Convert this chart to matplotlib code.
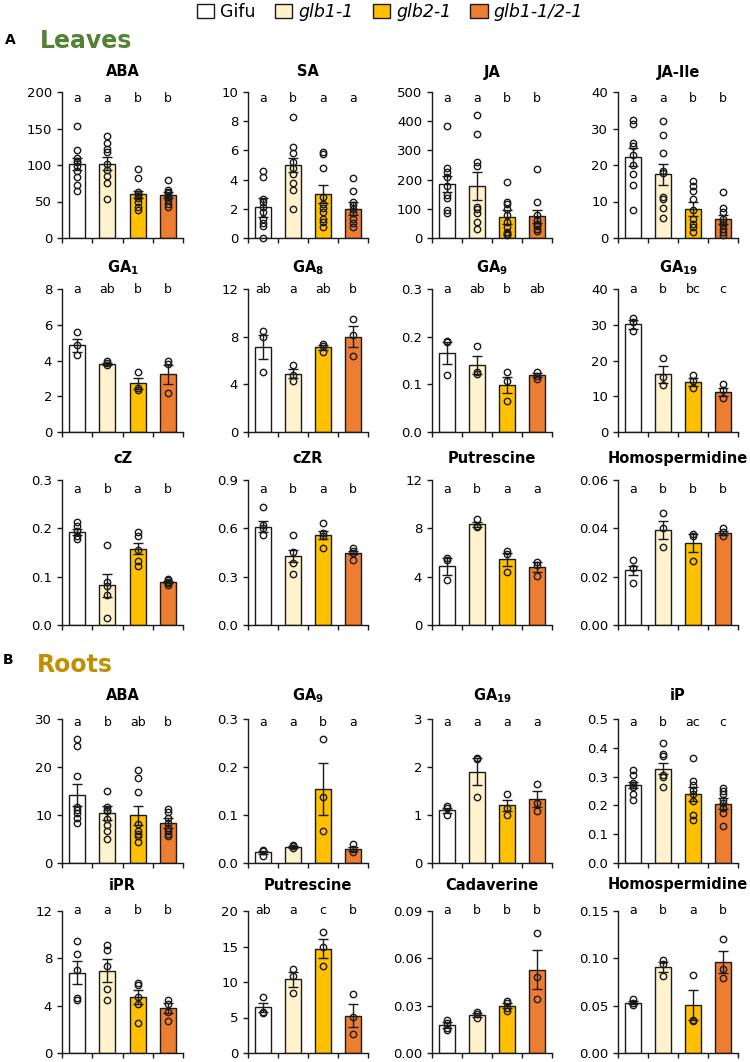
import matplotlib
matplotlib.use('Agg')
import matplotlib.pyplot as plt
from matplotlib.patches import Patch
from matplotlib.ticker import FormatStrFormatter
import numpy as np

plt.rcParams['font.family'] = ['DejaVu Sans']

genotypes = ['Gifu', 'glb1-1', 'glb2-1', 'glb1-1/2-1']
bar_colors = ['#FFFFFF', '#FFF2CC', '#FFC000', '#ED7D31']

# ---------------- Leaves ----------------
L_ABA_mean = [101, 102, 60, 59]
L_ABA_sem = [8, 9, 5, 4]
L_ABA_pts = [[153, 121, 109, 106, 104, 98, 92, 84, 72, 65], [140, 130, 122, 118, 101, 93, 85, 76, 53],
             [94, 82, 63, 60, 58, 55, 50, 43, 38], [79, 66, 63, 61, 58, 56, 52, 47, 43]]
L_ABA_sig = ['a', 'a', 'b', 'b']

L_SA_mean = [2.1, 5.0, 3.0, 2.0]
L_SA_sem = [0.65, 0.5, 0.6, 0.45]
L_SA_pts = [[4.6, 4.2, 2.7, 2.5, 2.1, 1.8, 1.3, 1.0, 0.8, 0.0], [8.3, 6.2, 5.8, 5.2, 4.8, 4.4, 3.8, 3.3, 2.0],
            [5.9, 5.75, 4.8, 2.8, 2.35, 2.05, 1.8, 1.3, 1.1, 0.75], [4.1, 3.2, 2.5, 2.25, 2.0, 1.7, 1.3, 1.0, 0.75]]
L_SA_sig = ['a', 'b', 'a', 'a']

L_JA_mean = [186, 178, 71, 75]
L_JA_sem = [28, 47, 24, 22]
L_JA_pts = [[383, 239, 227, 210, 178, 147, 138, 95, 87], [420, 356, 260, 245, 107, 98, 84, 55, 32],
            [193, 124, 115, 101, 78, 55, 38, 21, 15, 12, 9], [237, 124, 78, 61, 49, 45, 40, 32, 23]]
L_JA_sig = ['a', 'a', 'b', 'b']

L_JAIle_mean = [22.1, 17.4, 8.0, 5.1]
L_JAIle_sem = [2.5, 3.0, 1.9, 1.3]
L_JAIle_pts = [[32.4, 31.3, 26.1, 25.3, 22.8, 20, 17.5, 14.5, 7.6], [32.1, 28.3, 23.2, 18.3, 17.7, 11.3, 10.6, 8.1, 5.5],
               [15.6, 14.3, 12.8, 10.6, 7.6, 5.3, 3.9, 3.0, 1.7], [12.7, 8.1, 7.2, 5.3, 4.4, 3.5, 2.6, 1.7, 0.7]]
L_JAIle_sig = ['a', 'a', 'b', 'b']

L_GA1_mean = [4.85, 3.8, 2.72, 3.22]
L_GA1_sem = [0.38, 0.07, 0.32, 0.55]
L_GA1_pts = [[5.57, 4.86, 4.3], [3.96, 3.87, 3.74], [3.36, 2.47, 2.37], [3.98, 3.78, 2.19]]
L_GA1_sig = ['a', 'ab', 'b', 'b']

L_GA8_mean = [7.1, 4.9, 7.1, 8.0]
L_GA8_sem = [1.0, 0.4, 0.2, 0.9]
L_GA8_pts = [[8.45, 8.0, 5.04], [5.65, 4.76, 4.28], [7.36, 7.19, 6.71], [9.5, 8.1, 6.35]]
L_GA8_sig = ['ab', 'a', 'ab', 'b']

L_GA9_mean = [0.165, 0.141, 0.099, 0.119]
L_GA9_sem = [0.023, 0.019, 0.017, 0.004]
L_GA9_pts = [[0.19, 0.188, 0.12], [0.181, 0.126, 0.121], [0.125, 0.107, 0.065], [0.126, 0.118, 0.112]]
L_GA9_sig = ['a', 'ab', 'b', 'ab']

L_GA19_mean = [30.1, 16.1, 14.0, 11.1]
L_GA19_sem = [1.2, 2.3, 1.1, 1.1]
L_GA19_pts = [[31.8, 30.8, 28.2], [20.6, 15.4, 13.1], [15.9, 14.2, 12.4], [13.3, 11.7, 9.5]]
L_GA19_sig = ['a', 'b', 'bc', 'c']

L_cZ_mean = [0.192, 0.082, 0.158, 0.089]
L_cZ_sem = [0.006, 0.024, 0.012, 0.003]
L_cZ_pts = [[0.213, 0.205, 0.194, 0.185, 0.178], [0.165, 0.09, 0.08, 0.062, 0.014],
            [0.192, 0.184, 0.156, 0.133, 0.123], [0.096, 0.093, 0.09, 0.087, 0.083]]
L_cZ_sig = ['a', 'b', 'a', 'b']

L_cZR_mean = [0.61, 0.43, 0.56, 0.45]
L_cZR_sem = [0.034, 0.037, 0.024, 0.012]
L_cZR_pts = [[0.73, 0.621, 0.604, 0.559], [0.556, 0.452, 0.385, 0.317],
             [0.635, 0.573, 0.552, 0.479], [0.479, 0.458, 0.45, 0.406]]
L_cZR_sig = ['a', 'b', 'a', 'b']

L_Put_mean = [4.85, 8.35, 5.45, 4.78]
L_Put_sem = [0.72, 0.2, 0.55, 0.4]
L_Put_pts = [[5.53, 5.4, 3.69], [8.78, 8.22, 8.08], [6.14, 5.86, 4.39], [5.22, 5.0, 4.05]]
L_Put_sig = ['a', 'b', 'a', 'a']

L_Hsp_mean = [0.0226, 0.0394, 0.0339, 0.0382]
L_Hsp_sem = [0.0019, 0.0038, 0.0037, 0.0008]
L_Hsp_pts = [[0.0268, 0.0237, 0.0175], [0.0462, 0.040, 0.0321], [0.0376, 0.0367, 0.0265], [0.040, 0.0383, 0.037]]
L_Hsp_sig = ['a', 'b', 'b', 'b']

# ---------------- Roots ----------------
R_ABA_mean = [14.2, 10.4, 9.95, 8.3]
R_ABA_sem = [2.3, 1.4, 1.95, 1.0]
R_ABA_pts = [[25.8, 24.4, 18.2, 11.7, 11.1, 10.4, 9.4, 8.3], [15.1, 11.7, 11.1, 10.8, 9.2, 8.0, 6.6, 5.1],
             [19.4, 17.8, 14.7, 8.2, 6.6, 6.1, 5.6, 4.4], [11.3, 10.6, 9.4, 8.3, 7.3, 6.6, 6.1, 5.6]]
R_ABA_sig = ['a', 'b', 'ab', 'b']

R_GA9_mean = [0.022, 0.033, 0.154, 0.029]
R_GA9_sem = [0.003, 0.002, 0.055, 0.005]
R_GA9_pts = [[0.028, 0.024, 0.014], [0.0375, 0.035, 0.031], [0.259, 0.137, 0.067], [0.040, 0.030, 0.022]]
R_GA9_sig = ['a', 'a', 'b', 'a']

R_GA19_mean = [1.1, 1.9, 1.2, 1.33]
R_GA19_sem = [0.05, 0.28, 0.12, 0.16]
R_GA19_pts = [[1.18, 1.14, 1.01], [2.19, 2.17, 1.37], [1.44, 1.15, 1.0], [1.65, 1.26, 1.09]]
R_GA19_sig = ['a', 'a', 'a', 'a']

R_iP_mean = [0.272, 0.328, 0.24, 0.206]
R_iP_sem = [0.01, 0.019, 0.024, 0.02]
R_iP_pts = [[0.322, 0.305, 0.278, 0.272, 0.264, 0.238, 0.220], [0.415, 0.377, 0.371, 0.307, 0.298, 0.263],
            [0.365, 0.286, 0.272, 0.255, 0.238, 0.214, 0.165, 0.151],
            [0.261, 0.249, 0.238, 0.22, 0.209, 0.191, 0.174, 0.128]]
R_iP_sig = ['a', 'b', 'ac', 'c']

R_iPR_mean = [6.77, 6.94, 4.7, 3.78]
R_iPR_sem = [0.98, 0.98, 0.6, 0.42]
R_iPR_pts = [[9.43, 8.39, 7.05, 4.67, 4.48], [9.15, 8.67, 7.36, 5.45, 4.48],
             [5.93, 5.73, 4.75, 4.14, 2.57], [4.48, 4.14, 3.50, 2.74]]
R_iPR_sig = ['a', 'a', 'b', 'b']

R_Put_mean = [6.45, 10.37, 14.7, 5.28]
R_Put_sem = [0.65, 1.05, 1.35, 1.6]
R_Put_pts = [[7.94, 5.84, 5.7], [11.9, 10.9, 8.4], [17.0, 15.0, 12.2], [8.27, 5.14, 2.66]]
R_Put_sig = ['ab', 'a', 'c', 'b']

R_Cad_mean = [0.0178, 0.024, 0.030, 0.0529]
R_Cad_sem = [0.0018, 0.0012, 0.0015, 0.0125]
R_Cad_pts = [[0.021, 0.019, 0.0157, 0.0143], [0.0262, 0.0248, 0.022], [0.033, 0.0315, 0.0287, 0.0266],
             [0.076, 0.0483, 0.034]]
R_Cad_sig = ['a', 'b', 'b', 'b']

R_Hsp_mean = [0.0531, 0.0909, 0.0505, 0.0962]
R_Hsp_sem = [0.0015, 0.0055, 0.0157, 0.0120]
R_Hsp_pts = [[0.0566, 0.0531, 0.0507], [0.0986, 0.0944, 0.0811], [0.0822, 0.035, 0.0343], [0.1206, 0.0892, 0.0794]]
R_Hsp_sig = ['a', 'b', 'a', 'b']

# ---------------- layout (pixels) ----------------
W, H = 750, 1062
fig = plt.figure(figsize=(W / 100, H / 100), dpi=100)

col_x = [62, 248, 432, 618]
col_w = [121, 120, 120, 120]
rows_px = [(92, 238), (289, 432), (480, 625), (719, 863), (911, 1053)]
title_px = [72, 268, 458, 696, 885]
sig_px = [98, 289, 489, 722, 911]

panels = [
    (0, 0, 'ABA', L_ABA_mean, L_ABA_sem, L_ABA_pts, L_ABA_sig, 200, 50, '%d'),
    (0, 1, 'SA', L_SA_mean, L_SA_sem, L_SA_pts, L_SA_sig, 10, 2, '%d'),
    (0, 2, 'JA', L_JA_mean, L_JA_sem, L_JA_pts, L_JA_sig, 500, 100, '%d'),
    (0, 3, 'JA-Ile', L_JAIle_mean, L_JAIle_sem, L_JAIle_pts, L_JAIle_sig, 40, 10, '%d'),
    (1, 0, r'GA$_\mathbf{1}$', L_GA1_mean, L_GA1_sem, L_GA1_pts, L_GA1_sig, 8, 2, '%d'),
    (1, 1, r'GA$_\mathbf{8}$', L_GA8_mean, L_GA8_sem, L_GA8_pts, L_GA8_sig, 12, 4, '%d'),
    (1, 2, r'GA$_\mathbf{9}$', L_GA9_mean, L_GA9_sem, L_GA9_pts, L_GA9_sig, 0.3, 0.1, '%.1f'),
    (1, 3, r'GA$_\mathbf{19}$', L_GA19_mean, L_GA19_sem, L_GA19_pts, L_GA19_sig, 40, 10, '%d'),
    (2, 0, 'cZ', L_cZ_mean, L_cZ_sem, L_cZ_pts, L_cZ_sig, 0.3, 0.1, '%.1f'),
    (2, 1, 'cZR', L_cZR_mean, L_cZR_sem, L_cZR_pts, L_cZR_sig, 0.9, 0.3, '%.1f'),
    (2, 2, 'Putrescine', L_Put_mean, L_Put_sem, L_Put_pts, L_Put_sig, 12, 4, '%d'),
    (2, 3, 'Homospermidine', L_Hsp_mean, L_Hsp_sem, L_Hsp_pts, L_Hsp_sig, 0.06, 0.02, '%.2f'),
    (3, 0, 'ABA', R_ABA_mean, R_ABA_sem, R_ABA_pts, R_ABA_sig, 30, 10, '%d'),
    (3, 1, r'GA$_\mathbf{9}$', R_GA9_mean, R_GA9_sem, R_GA9_pts, R_GA9_sig, 0.3, 0.1, '%.1f'),
    (3, 2, r'GA$_\mathbf{19}$', R_GA19_mean, R_GA19_sem, R_GA19_pts, R_GA19_sig, 3, 1, '%d'),
    (3, 3, 'iP', R_iP_mean, R_iP_sem, R_iP_pts, R_iP_sig, 0.5, 0.1, '%.1f'),
    (4, 0, 'iPR', R_iPR_mean, R_iPR_sem, R_iPR_pts, R_iPR_sig, 12, 4, '%d'),
    (4, 1, 'Putrescine', R_Put_mean, R_Put_sem, R_Put_pts, R_Put_sig, 20, 5, '%d'),
    (4, 2, 'Cadaverine', R_Cad_mean, R_Cad_sem, R_Cad_pts, R_Cad_sig, 0.09, 0.03, '%.2f'),
    (4, 3, 'Homospermidine', R_Hsp_mean, R_Hsp_sem, R_Hsp_pts, R_Hsp_sig, 0.15, 0.05, '%.2f'),
]

line_c = '#1a1a1a'

for (r, c, title, mean, sem, pts, sig, ymax, step, fmt) in panels:
    top, bot = rows_px[r]
    x0, w = col_x[c], col_w[c]
    ax = fig.add_axes([x0 / W, 1 - bot / H, w / W, (bot - top) / H])
    x = np.arange(len(genotypes))
    ax.bar(x, mean, width=0.53, color=bar_colors, edgecolor=line_c, linewidth=1.0, zorder=2)
    ax.errorbar(x, mean, yerr=sem, fmt='none', ecolor=line_c, elinewidth=1.0,
                capsize=3.6, capthick=1.0, zorder=3)
    for i, p in enumerate(pts):
        ax.plot([i] * len(p), p, 'o', ms=4.6, mfc='none', mec=line_c, mew=1.0,
                zorder=4, clip_on=False)
    ax.set_xlim(-0.5, 3.5)
    ax.set_ylim(0, ymax)
    n = int(round(ymax / step))
    ax.set_yticks(np.linspace(0, ymax, n + 1))
    ax.yaxis.set_major_formatter(FormatStrFormatter(fmt))
    ax.set_xticks([-0.5, 0.5, 1.5, 2.5, 3.5])
    ax.set_xticklabels([])
    for s in ['top', 'right']:
        ax.spines[s].set_visible(False)
    for s in ['left', 'bottom']:
        ax.spines[s].set_linewidth(1.0)
        ax.spines[s].set_color(line_c)
    ax.tick_params(axis='both', direction='out', length=3.6, width=1.0, color=line_c,
                   labelsize=9.5, pad=3.5)
    fig.text((x0 + w / 2) / W, 1 - title_px[r] / H, title, ha='center', va='center',
             fontsize=10.5, fontweight='bold')
    ylet = 1 - (sig_px[r] - top) / (bot - top)
    for i, s in enumerate(sig):
        ax.text(i, ylet, s, transform=ax.get_xaxis_transform(), ha='center', va='center',
                fontsize=9, clip_on=False)

# section labels
fig.text(5 / W, 1 - 40 / H, 'A', fontsize=10, fontweight='bold', ha='left', va='center')
fig.text(40 / W, 1 - 41 / H, 'Leaves', fontsize=17, fontweight='bold', color='#548235',
         ha='left', va='center')
fig.text(3 / W, 1 - 660 / H, 'B', fontsize=10, fontweight='bold', ha='left', va='center')
fig.text(37 / W, 1 - 665 / H, 'Roots', fontsize=17, fontweight='bold', color='#BF9000',
         ha='left', va='center')

# legend
handles = [Patch(facecolor=col, edgecolor=line_c, linewidth=1.0) for col in bar_colors]
leg = fig.legend(handles, genotypes, loc='center', bbox_to_anchor=(390 / W, 1 - 12 / H),
                 ncol=4, frameon=False, fontsize=12.5, handlelength=1.0, handleheight=0.8,
                 handletextpad=0.35, columnspacing=1.1, borderaxespad=0, borderpad=0)
for t in leg.get_texts()[1:]:
    t.set_style('italic')

fig.savefig('out.png', dpi=100)
